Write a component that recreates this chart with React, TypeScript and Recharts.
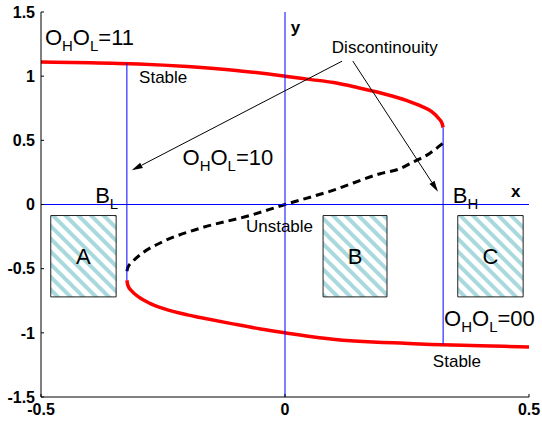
import { ComposedChart, Line, XAxis, YAxis, ReferenceLine, ReferenceArea, ReferenceDot } from "recharts"

const FONT = "'Liberation Sans', Arial, Helvetica, sans-serif"

// upper stable branch (red)
const upperX = [-0.5, -0.4, -0.3, -0.2, -0.1, 0, 0.05, 0.1, 0.15, 0.2, 0.25, 0.28, 0.3, 0.315, 0.322, 0.324]
const upperY = [1.11, 1.105, 1.095, 1.075, 1.045, 1.0, 0.975, 0.95, 0.91, 0.865, 0.81, 0.765, 0.725, 0.67, 0.63, 0.6]

// lower stable branch (red)
const lowerX = [-0.324, -0.322, -0.315, -0.3, -0.277, -0.25, -0.2, -0.174, -0.107, -0.05, 0, 0.098, 0.2, 0.236, 0.3, 0.4, 0.5]
const lowerY = [-0.59, -0.63, -0.67, -0.72, -0.77, -0.81, -0.86, -0.88, -0.93, -0.97, -1.0, -1.05, -1.075, -1.08, -1.09, -1.1, -1.11]

// unstable middle branch (dashed)
const midX = [-0.324, -0.322, -0.311, -0.291, -0.256, -0.174, -0.072, 0, 0.098, 0.195, 0.236, 0.262, 0.297, 0.318, 0.324]
const midY = [-0.52, -0.49, -0.44, -0.375, -0.3, -0.185, -0.086, 0, 0.11, 0.24, 0.28, 0.33, 0.4, 0.46, 0.48]

const xTicks = [-0.5, 0, 0.5]
const yTicks = [-1.5, -1, -0.5, 0, 0.5, 1, 1.5]

// switching thresholds B_L / B_H: x, top y, bottom y
const edgeX = [-0.324, 0.324]
const edgeTop = [1.1, 0.6]
const edgeBottom = [-0.59, -1.09]

// hatched region boxes
const boxNames = ["A", "B", "C"]
const boxLeft = [-0.48, 0.078, 0.354]
const boxRight = [-0.346, 0.209, 0.488]
const boxTop = -0.086
const boxBottom = -0.72

// "Discontinouity" pointers
const arrowFromX = [0.117, 0.139]
const arrowFromY = [1.117, 1.117]
const arrowToX = [-0.314, 0.3135]
const arrowToY = [0.266, 0.1]

// annotations, "_" marks a subscript letter
const noteText = ["O_HO_L=11", "O_HO_L=10", "O_HO_L=00", "Stable", "Stable", "Unstable", "Discontinouity", "B_L", "B_H", "y", "x"]
const noteX = [-0.492, -0.21, 0.326, -0.299, 0.303, -0.08, 0.096, -0.389, 0.344, 0.012, 0.463]
const noteY = [1.242, 0.305, -0.945, 0.945, -1.266, -0.211, 1.18, 0.008, 0.008, 1.336, 0.055]
const noteSize = [22, 22, 22, 17, 17, 17, 17, 22, 22, 17, 17]
const noteBold = [false, false, false, false, false, false, false, false, false, true, true]

const toRows = (xs: number[], ys: number[]) => xs.map((x, i) => ({ x, y: ys[i] }))

function richText(text: string, size: number) {
  const parts = text.split(/(_.)/).filter((p) => p.length > 0)
  const shift = Math.round(size * 0.28)
  let down = false
  return parts.map((p, i) => {
    if (p.startsWith("_")) {
      const dy = down ? 0 : shift
      down = true
      return (
        <tspan key={i} dy={dy} fontSize={size * 0.68}>
          {p.slice(1)}
        </tspan>
      )
    }
    const dy = down ? -shift : 0
    down = false
    return (
      <tspan key={i} dy={dy}>
        {p}
      </tspan>
    )
  })
}

const noteLabel = (text: string, size: number, bold: boolean) => (props: any) => {
  const vb = props.viewBox || {}
  return (
    <text x={vb.x} y={vb.y} fontFamily={FONT} fontSize={size} fontWeight={bold ? "bold" : "normal"} fill="#000">
      {richText(text, size)}
    </text>
  )
}

function Arrow(props: any) {
  const { x1, y1, x2, y2 } = props
  if ([x1, y1, x2, y2].some((v) => typeof v !== "number")) return null
  const ang = Math.atan2(y2 - y1, x2 - x1)
  const len = 11
  const half = 3
  const bx = x2 - len * Math.cos(ang)
  const by = y2 - len * Math.sin(ang)
  const px = -Math.sin(ang) * half
  const py = Math.cos(ang) * half
  return (
    <g>
      <line x1={x1} y1={y1} x2={bx} y2={by} stroke="#000" strokeWidth={1} />
      <path d={`M${x2},${y2} L${bx + px},${by + py} L${bx - px},${by - py} Z`} fill="#000" />
    </g>
  )
}

const tickStyle = { fontFamily: FONT, fontSize: 16, fontWeight: "bold", fill: "#000" }

export default function App() {
  return (
    <div style={{ position: "absolute", left: 0, top: 0, background: "#fff" }}>
      <ComposedChart width={542} height={421} margin={{ top: 12, right: 13, bottom: 0, left: 0 }}>
        <defs>
          <pattern id="hatch" patternUnits="userSpaceOnUse" width={9} height={9} patternTransform="rotate(-45)">
            <rect x={0} y={0} width={9} height={9} fill="#fff" />
            <rect x={0} y={0} width={4} height={9} fill="#a9d9dd" />
          </pattern>
        </defs>
        <XAxis
          type="number"
          dataKey="x"
          domain={[-0.5, 0.5]}
          ticks={xTicks}
          interval={0}
          allowDataOverflow
          height={24}
          tick={tickStyle}
          tickSize={-3}
          tickMargin={10}
          axisLine={{ stroke: "#000" }}
          tickLine={{ stroke: "#000" }}
        />
        <YAxis
          type="number"
          dataKey="y"
          domain={[-1.5, 1.5]}
          ticks={yTicks}
          interval={0}
          allowDataOverflow
          width={41}
          tick={tickStyle}
          tickSize={-3}
          tickMargin={9}
          axisLine={{ stroke: "#000" }}
          tickLine={{ stroke: "#000" }}
        />

        {boxNames.map((name, i) => (
          <ReferenceArea
            key={name}
            x1={boxLeft[i]}
            x2={boxRight[i]}
            y1={boxBottom}
            y2={boxTop}
            fill="url(#hatch)"
            fillOpacity={1}
            stroke="#222"
            strokeWidth={1}
            label={{ value: name, position: "center", fontSize: 22, fontFamily: FONT, fill: "#000" }}
          />
        ))}

        <Line
          data={toRows(upperX, upperY)}
          dataKey="y"
          type="monotoneX"
          stroke="#ff0000"
          strokeWidth={3.5}
          dot={false}
          isAnimationActive={false}
        />
        <Line
          data={toRows(lowerX, lowerY)}
          dataKey="y"
          type="monotoneX"
          stroke="#ff0000"
          strokeWidth={3.5}
          dot={false}
          isAnimationActive={false}
        />
        <Line
          data={toRows(midX, midY)}
          dataKey="y"
          type="monotoneX"
          stroke="#000"
          strokeWidth={3}
          strokeDasharray="8 5"
          dot={false}
          isAnimationActive={false}
        />

        <ReferenceLine y={0} stroke="#0000ff" strokeWidth={1} />
        <ReferenceLine x={0} stroke="#0000ff" strokeWidth={1} />
        {edgeX.map((x, i) => (
          <ReferenceLine
            key={`edge${i}`}
            segment={[
              { x, y: edgeTop[i] },
              { x, y: edgeBottom[i] },
            ]}
            stroke="#0000ff"
            strokeWidth={1}
          />
        ))}

        {arrowFromX.map((x, i) => (
          <ReferenceLine
            key={`arrow${i}`}
            segment={[
              { x, y: arrowFromY[i] },
              { x: arrowToX[i], y: arrowToY[i] },
            ]}
            shape={Arrow}
          />
        ))}

        {noteText.map((t, i) => (
          <ReferenceDot
            key={`note${i}`}
            x={noteX[i]}
            y={noteY[i]}
            r={0}
            fill="none"
            stroke="none"
            label={{ content: noteLabel(t, noteSize[i], noteBold[i]) }}
          />
        ))}
      </ComposedChart>
    </div>
  )
}
